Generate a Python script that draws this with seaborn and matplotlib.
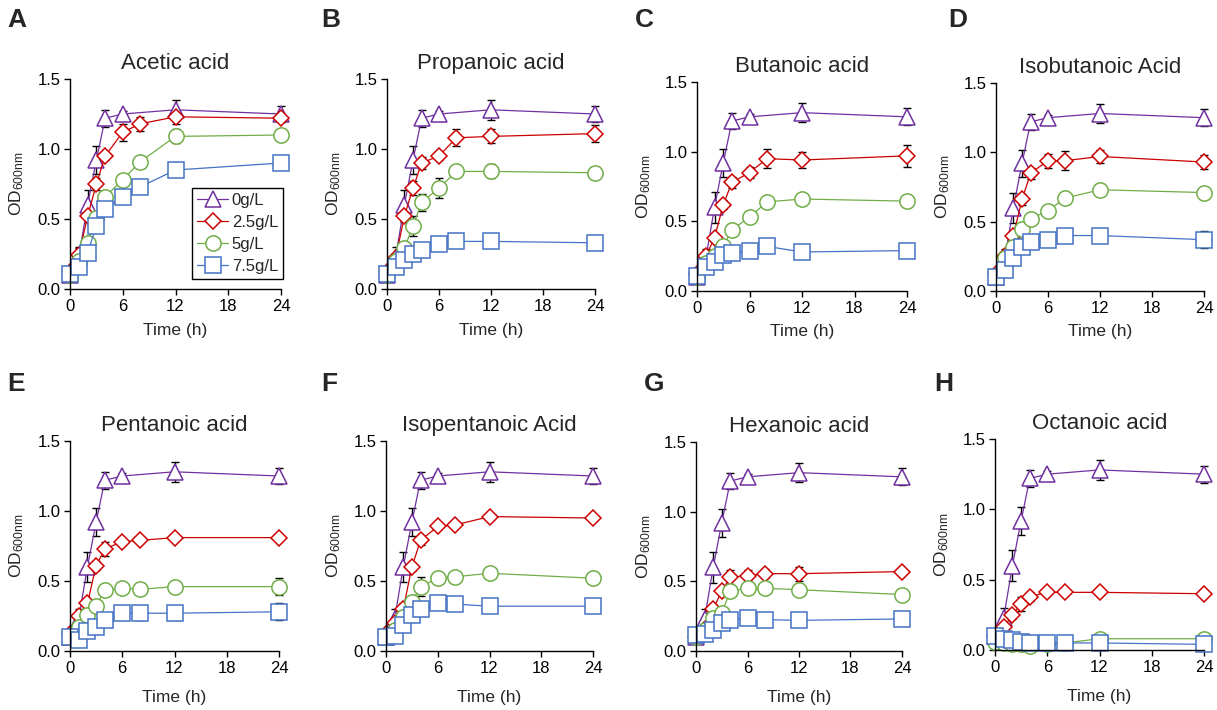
import matplotlib
matplotlib.use("Agg")
import matplotlib.pyplot as plt
import seaborn as sns
import pandas as pd

# --- data ---
acids = ["Acetic acid", "Propanoic acid", "Butanoic acid", "Isobutanoic Acid",
         "Pentanoic acid", "Isopentanoic Acid", "Hexanoic acid", "Octanoic acid"]
panel_letters = ["A", "B", "C", "D", "E", "F", "G", "H"]
conc_labels = ["0g/L", "2.5g/L", "5g/L", "7.5g/L"]

time_ctrl = [0, 1, 2, 3, 4, 6, 12, 24]
time_acid = [0, 1, 2, 3, 4, 6, 8, 12, 24]

# control (0 g/L) is the same curve in every panel
od_0g = [0.10, 0.23, 0.60, 0.92, 1.22, 1.25, 1.28, 1.25]
err_0g = [0.00, 0.07, 0.11, 0.10, 0.06, 0.02, 0.07, 0.06]

od_2_5g = [
    [0.12, 0.24, 0.52, 0.75, 0.95, 1.12, 1.18, 1.23, 1.22],
    [0.12, 0.22, 0.52, 0.72, 0.90, 0.95, 1.08, 1.09, 1.11],
    [0.12, 0.25, 0.38, 0.62, 0.78, 0.85, 0.95, 0.94, 0.97],
    [0.12, 0.25, 0.40, 0.66, 0.85, 0.94, 0.94, 0.97, 0.93],
    [0.12, 0.25, 0.34, 0.61, 0.73, 0.78, 0.79, 0.81, 0.81],
    [0.12, 0.20, 0.30, 0.60, 0.79, 0.89, 0.90, 0.96, 0.95],
    [0.10, 0.16, 0.30, 0.43, 0.53, 0.54, 0.555, 0.555, 0.57],
    [0.10, 0.16, 0.25, 0.33, 0.38, 0.41, 0.41, 0.41, 0.40],
]
err_2_5g = [
    [0, 0.05, 0.04, 0.04, 0.03, 0.06, 0.05, 0.05, 0.03],
    [0, 0.03, 0.04, 0.05, 0.04, 0.03, 0.06, 0.05, 0.06],
    [0, 0.03, 0.03, 0.03, 0.04, 0.04, 0.07, 0.06, 0.08],
    [0, 0.03, 0.03, 0.04, 0.04, 0.05, 0.07, 0.05, 0.05],
    [0, 0.03, 0.03, 0.03, 0.05, 0.02, 0.02, 0.02, 0.02],
    [0, 0.03, 0.04, 0.03, 0.03, 0.02, 0.02, 0.02, 0.02],
    [0, 0.03, 0.03, 0.03, 0.05, 0.04, 0.03, 0.05, 0.02],
    [0, 0.03, 0.03, 0.05, 0.03, 0.02, 0.02, 0.02, 0.02],
]

od_5g = [
    [0.10, 0.20, 0.33, 0.51, 0.66, 0.78, 0.91, 1.09, 1.10],
    [0.10, 0.20, 0.29, 0.45, 0.62, 0.72, 0.84, 0.84, 0.83],
    [0.10, 0.20, 0.25, 0.32, 0.44, 0.53, 0.64, 0.66, 0.645],
    [0.10, 0.24, 0.32, 0.45, 0.52, 0.58, 0.67, 0.73, 0.71],
    [0.10, 0.17, 0.26, 0.32, 0.435, 0.45, 0.44, 0.46, 0.46],
    [0.10, 0.15, 0.24, 0.35, 0.46, 0.52, 0.53, 0.555, 0.52],
    [0.10, 0.15, 0.24, 0.275, 0.43, 0.45, 0.45, 0.44, 0.405],
    [0.06, 0.05, 0.04, 0.04, 0.03, 0.04, 0.05, 0.08, 0.08],
]
err_5g = [
    [0, 0.03, 0.03, 0.03, 0.03, 0.02, 0.02, 0.05, 0.02],
    [0, 0.03, 0.03, 0.07, 0.06, 0.07, 0.03, 0.05, 0.02],
    [0, 0.02, 0.02, 0.02, 0.02, 0.02, 0.02, 0.02, 0.02],
    [0, 0.02, 0.02, 0.02, 0.02, 0.02, 0.02, 0.02, 0.02],
    [0, 0.02, 0.02, 0.02, 0.02, 0.02, 0.02, 0.02, 0.06],
    [0, 0.02, 0.02, 0.03, 0.07, 0.02, 0.02, 0.02, 0.02],
    [0, 0.02, 0.02, 0.03, 0.02, 0.02, 0.02, 0.02, 0.02],
    [0, 0.01, 0.01, 0.01, 0.01, 0.01, 0.01, 0.01, 0.01],
]

od_7_5g = [
    [0.11, 0.16, 0.26, 0.45, 0.57, 0.66, 0.73, 0.85, 0.90],
    [0.11, 0.16, 0.21, 0.25, 0.28, 0.32, 0.34, 0.34, 0.33],
    [0.11, 0.17, 0.21, 0.26, 0.27, 0.29, 0.32, 0.28, 0.29],
    [0.10, 0.15, 0.235, 0.32, 0.35, 0.37, 0.40, 0.40, 0.37],
    [0.10, 0.08, 0.145, 0.17, 0.22, 0.27, 0.27, 0.27, 0.28],
    [0.10, 0.11, 0.185, 0.26, 0.30, 0.34, 0.335, 0.32, 0.32],
    [0.115, 0.12, 0.15, 0.20, 0.225, 0.235, 0.225, 0.22, 0.23],
    [0.10, 0.08, 0.07, 0.06, 0.05, 0.05, 0.05, 0.05, 0.04],
]
err_7_5g = [
    [0, 0.02, 0.02, 0.03, 0.04, 0.02, 0.02, 0.02, 0.02],
    [0, 0.02, 0.02, 0.02, 0.02, 0.02, 0.02, 0.02, 0.02],
    [0, 0.02, 0.02, 0.02, 0.02, 0.02, 0.02, 0.02, 0.02],
    [0, 0.02, 0.02, 0.02, 0.02, 0.02, 0.02, 0.02, 0.06],
    [0, 0.02, 0.02, 0.02, 0.02, 0.02, 0.05, 0.05, 0.06],
    [0, 0.04, 0.03, 0.02, 0.02, 0.02, 0.02, 0.02, 0.02],
    [0, 0.02, 0.02, 0.02, 0.02, 0.02, 0.02, 0.02, 0.02],
    [0, 0.01, 0.01, 0.01, 0.01, 0.01, 0.01, 0.01, 0.01],
]

# --- styling ---
colors = ["#7030A0", "#CC0000", "#70AD47", "#4472C4"]
markers = ["^", "D", "o", "s"]
msizes = [11.5, 8.5, 11, 11]

sns.set_style("ticks")
plt.rcParams["font.family"] = ["Liberation Sans", "DejaVu Sans"]
plt.rcParams["mathtext.default"] = "regular"

W, H = 1217, 710
fig = plt.figure(figsize=(W / 100, H / 100), dpi=100)

# axes boxes in pixels: left, top, right, bottom
boxes = [(70, 79, 281, 289), (387, 79, 595, 289), (697, 82, 907, 291), (996, 83, 1204, 291),
         (70, 441, 279, 651), (386, 441, 593, 651), (696, 442, 902, 651), (995, 439, 1204, 650)]
letter_pos = [(7, 8), (321, 8), (635, 8), (948, 8),
              (7, 372), (321, 372), (644, 372), (934, 372)]

for i, acid in enumerate(acids):
    l, t, r, b = boxes[i]
    ax = fig.add_axes([l / W, 1 - b / H, (r - l) / W, (b - t) / H])

    series = [
        (time_ctrl, od_0g, err_0g),
        (time_acid, od_2_5g[i], err_2_5g[i]),
        (time_acid, od_5g[i], err_5g[i]),
        (time_acid, od_7_5g[i], err_7_5g[i]),
    ]
    handles = []
    for k, (tt, od, er) in enumerate(series):
        ax.errorbar(tt, od, yerr=er, fmt="none", ecolor="black", elinewidth=1,
                    capsize=3, capthick=1, zorder=1.5, clip_on=False)
        df = pd.DataFrame({"time": tt, "od": od})
        sns.lineplot(data=df, x="time", y="od", ax=ax, color=colors[k],
                     marker=markers[k], markersize=msizes[k], markerfacecolor="white",
                     markeredgecolor=colors[k], markeredgewidth=1.1, linewidth=0.9,
                     errorbar=None, clip_on=False, zorder=2 + k * 0.1, legend=False)
        line = ax.lines[-1]
        line.set_label(conc_labels[k])
        handles.append(line)

    ax.set_xlim(0, 24)
    ax.set_ylim(0, 1.5)
    ax.set_xticks([0, 6, 12, 18, 24])
    ax.set_yticks([0, 0.5, 1.0, 1.5])
    ax.set_yticklabels(["0.0", "0.5", "1.0", "1.5"])
    ax.tick_params(labelsize=12, length=4, width=1, colors="black", pad=3)
    sns.despine(ax=ax)
    for sp in ["left", "bottom"]:
        ax.spines[sp].set_color("black")
        ax.spines[sp].set_linewidth(1)

    ax.set_title(acid, fontsize=16, pad=7)
    ax.set_xlabel("Time (h)", fontsize=12.5)
    ax.set_ylabel(r"OD$_{600nm}$", fontsize=12.5)
    ax.yaxis.set_label_coords(-0.21, 0.5)
    ax.xaxis.set_label_coords(0.5, -0.16 if i < 4 else -0.185)

    if i == 0:
        leg = ax.legend(handles=handles, loc="lower right", bbox_to_anchor=(1.01, 0.05),
                        fontsize=12, frameon=True, fancybox=False, framealpha=1,
                        edgecolor="black", handlelength=1.9, handletextpad=0.2,
                        labelspacing=0.42, borderpad=0.3, borderaxespad=0)
        leg.get_frame().set_linewidth(1)

    lx, ly = letter_pos[i]
    fig.text(lx / W, 1 - ly / H, panel_letters[i], fontsize=19, fontweight="bold",
             ha="left", va="top")

fig.savefig("out.png", dpi=100)
